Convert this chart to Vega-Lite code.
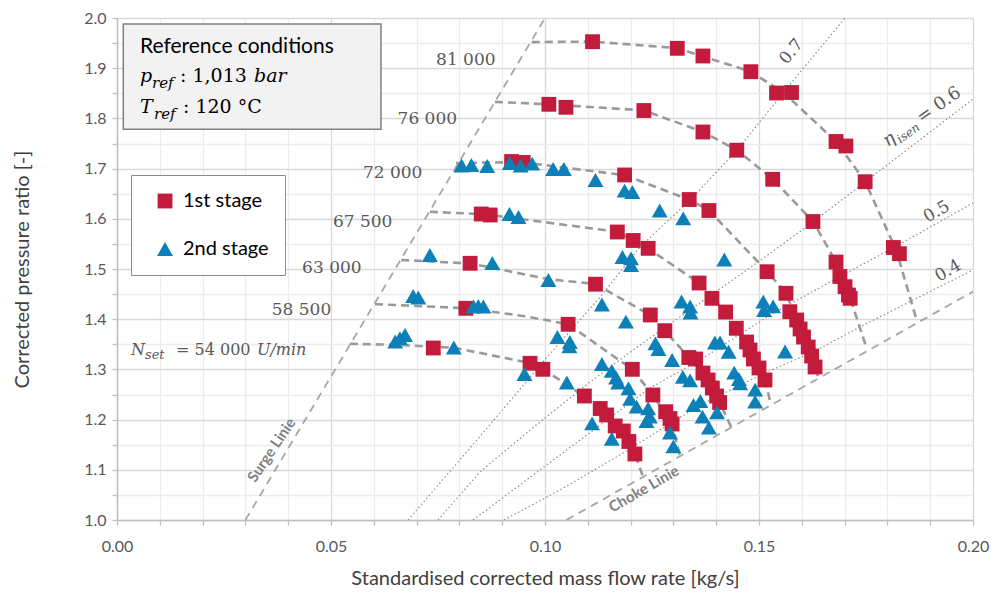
{
  "$schema": "https://vega.github.io/schema/vega-lite/v6.json",
  "width": 856,
  "height": 502,
  "autosize": {"type": "none"},
  "padding": {"left": 117, "top": 18, "right": 21, "bottom": 74},
  "background": "white",
  "config": {"view": {"stroke": null}},
  "datasets": {
    "points": [
      {"stage":"1st stage","x":0.1111,"y":1.9528},{"stage":"1st stage","x":0.1309,"y":1.9396},{"stage":"1st stage","x":0.1369,"y":1.9243},{"stage":"1st stage","x":0.1481,"y":1.8930},{"stage":"1st stage","x":0.1541,"y":1.8506},{"stage":"1st stage","x":0.1576,"y":1.8516},{"stage":"1st stage","x":0.1680,"y":1.7540},{"stage":"1st stage","x":0.1703,"y":1.7450},{"stage":"1st stage","x":0.1748,"y":1.6739},{"stage":"1st stage","x":0.1814,"y":1.5428},{"stage":"1st stage","x":0.1828,"y":1.5305},
      {"stage":"1st stage","x":0.1009,"y":1.8281},{"stage":"1st stage","x":0.1049,"y":1.8221},{"stage":"1st stage","x":0.1231,"y":1.8157},{"stage":"1st stage","x":0.1369,"y":1.7729},{"stage":"1st stage","x":0.1448,"y":1.7367},{"stage":"1st stage","x":0.1532,"y":1.6787},{"stage":"1st stage","x":0.1626,"y":1.5946},{"stage":"1st stage","x":0.1680,"y":1.5139},{"stage":"1st stage","x":0.1689,"y":1.4851},{"stage":"1st stage","x":0.1701,"y":1.4647},{"stage":"1st stage","x":0.1709,"y":1.4482},{"stage":"1st stage","x":0.1713,"y":1.4416},
      {"stage":"1st stage","x":0.0922,"y":1.7141},{"stage":"1st stage","x":0.0949,"y":1.7122},{"stage":"1st stage","x":0.1186,"y":1.6873},{"stage":"1st stage","x":0.1337,"y":1.6384},{"stage":"1st stage","x":0.1383,"y":1.6165},{"stage":"1st stage","x":0.1519,"y":1.4946},{"stage":"1st stage","x":0.1563,"y":1.4516},{"stage":"1st stage","x":0.1572,"y":1.4149},{"stage":"1st stage","x":0.1588,"y":1.3984},{"stage":"1st stage","x":0.1596,"y":1.3805},{"stage":"1st stage","x":0.1604,"y":1.3645},{"stage":"1st stage","x":0.1615,"y":1.3446},{"stage":"1st stage","x":0.1623,"y":1.3267},{"stage":"1st stage","x":0.1631,"y":1.3048},
      {"stage":"1st stage","x":0.0851,"y":1.6096},{"stage":"1st stage","x":0.0872,"y":1.6076},{"stage":"1st stage","x":0.1169,"y":1.5737},{"stage":"1st stage","x":0.1206,"y":1.5568},{"stage":"1st stage","x":0.1241,"y":1.5412},{"stage":"1st stage","x":0.1360,"y":1.4721},{"stage":"1st stage","x":0.1390,"y":1.4416},{"stage":"1st stage","x":0.1422,"y":1.4143},{"stage":"1st stage","x":0.1447,"y":1.3819},{"stage":"1st stage","x":0.1471,"y":1.3546},{"stage":"1st stage","x":0.1479,"y":1.3386},{"stage":"1st stage","x":0.1487,"y":1.3207},{"stage":"1st stage","x":0.1500,"y":1.3028},{"stage":"1st stage","x":0.1514,"y":1.2789},
      {"stage":"1st stage","x":0.0825,"y":1.5114},{"stage":"1st stage","x":0.1118,"y":1.4697},{"stage":"1st stage","x":0.1246,"y":1.4084},{"stage":"1st stage","x":0.1280,"y":1.3771},{"stage":"1st stage","x":0.1336,"y":1.3237},{"stage":"1st stage","x":0.1352,"y":1.3207},{"stage":"1st stage","x":0.1369,"y":1.2928},{"stage":"1st stage","x":0.1381,"y":1.2789},{"stage":"1st stage","x":0.1391,"y":1.2629},{"stage":"1st stage","x":0.1401,"y":1.2470},{"stage":"1st stage","x":0.1408,"y":1.2341},
      {"stage":"1st stage","x":0.0815,"y":1.4217},{"stage":"1st stage","x":0.1054,"y":1.3898},{"stage":"1st stage","x":0.1204,"y":1.3002},{"stage":"1st stage","x":0.1252,"y":1.2490},{"stage":"1st stage","x":0.1282,"y":1.2157},{"stage":"1st stage","x":0.1292,"y":1.2022},{"stage":"1st stage","x":0.1297,"y":1.1912},
      {"stage":"1st stage","x":0.0739,"y":1.3426},{"stage":"1st stage","x":0.0965,"y":1.3122},{"stage":"1st stage","x":0.0995,"y":1.3002},{"stage":"1st stage","x":0.1092,"y":1.2470},{"stage":"1st stage","x":0.1129,"y":1.2221},{"stage":"1st stage","x":0.1144,"y":1.2092},{"stage":"1st stage","x":0.1164,"y":1.1873},{"stage":"1st stage","x":0.1183,"y":1.1773},{"stage":"1st stage","x":0.1196,"y":1.1564},{"stage":"1st stage","x":0.1210,"y":1.1315},
      {"stage":"2nd stage","x":0.0805,"y":1.7062},{"stage":"2nd stage","x":0.0828,"y":1.7072},{"stage":"2nd stage","x":0.0865,"y":1.7052},{"stage":"2nd stage","x":0.0918,"y":1.7112},{"stage":"2nd stage","x":0.0943,"y":1.7062},{"stage":"2nd stage","x":0.0970,"y":1.7098},{"stage":"2nd stage","x":0.1019,"y":1.6992},{"stage":"2nd stage","x":0.1044,"y":1.6992},{"stage":"2nd stage","x":0.1118,"y":1.6773},{"stage":"2nd stage","x":0.1186,"y":1.6560},{"stage":"2nd stage","x":0.1204,"y":1.6534},{"stage":"2nd stage","x":0.1268,"y":1.6165},{"stage":"2nd stage","x":0.1323,"y":1.6010},
      {"stage":"2nd stage","x":0.0917,"y":1.6096},{"stage":"2nd stage","x":0.0938,"y":1.6036},{"stage":"2nd stage","x":0.1181,"y":1.5239},{"stage":"2nd stage","x":0.1201,"y":1.5213},{"stage":"2nd stage","x":0.1201,"y":1.5080},{"stage":"2nd stage","x":0.1419,"y":1.5189},
      {"stage":"2nd stage","x":0.0731,"y":1.5279},{"stage":"2nd stage","x":0.0877,"y":1.5120},{"stage":"2nd stage","x":0.1008,"y":1.4781},{"stage":"2nd stage","x":0.1133,"y":1.4293},{"stage":"2nd stage","x":0.1189,"y":1.3950},{"stage":"2nd stage","x":0.1319,"y":1.4353},{"stage":"2nd stage","x":0.1339,"y":1.4253},{"stage":"2nd stage","x":0.1340,"y":1.4133},{"stage":"2nd stage","x":0.1510,"y":1.4349},{"stage":"2nd stage","x":0.1533,"y":1.4255},{"stage":"2nd stage","x":0.1512,"y":1.4183},
      {"stage":"2nd stage","x":0.0692,"y":1.4462},{"stage":"2nd stage","x":0.0704,"y":1.4432},{"stage":"2nd stage","x":0.0833,"y":1.4253},{"stage":"2nd stage","x":0.0844,"y":1.4263},{"stage":"2nd stage","x":0.0856,"y":1.4253},{"stage":"2nd stage","x":0.1029,"y":1.3645},{"stage":"2nd stage","x":0.1058,"y":1.3546},{"stage":"2nd stage","x":0.1057,"y":1.3460},{"stage":"2nd stage","x":0.1258,"y":1.3520},{"stage":"2nd stage","x":0.1265,"y":1.3406},{"stage":"2nd stage","x":0.1297,"y":1.3187},{"stage":"2nd stage","x":0.1397,"y":1.3536},{"stage":"2nd stage","x":0.1409,"y":1.3536},{"stage":"2nd stage","x":0.1429,"y":1.3351},{"stage":"2nd stage","x":0.1561,"y":1.3357},
      {"stage":"2nd stage","x":0.0650,"y":1.3556},{"stage":"2nd stage","x":0.0661,"y":1.3622},{"stage":"2nd stage","x":0.0673,"y":1.3685},{"stage":"2nd stage","x":0.0787,"y":1.3436},{"stage":"2nd stage","x":0.0952,"y":1.2908},{"stage":"2nd stage","x":0.1051,"y":1.2739},{"stage":"2nd stage","x":0.1110,"y":1.1926},{"stage":"2nd stage","x":0.1133,"y":1.3108},{"stage":"2nd stage","x":0.1156,"y":1.2972},{"stage":"2nd stage","x":0.1166,"y":1.2839},{"stage":"2nd stage","x":0.1171,"y":1.2739},{"stage":"2nd stage","x":0.1156,"y":1.1618},{"stage":"2nd stage","x":0.1195,"y":1.2624},{"stage":"2nd stage","x":0.1199,"y":1.2414},{"stage":"2nd stage","x":0.1214,"y":1.2257},{"stage":"2nd stage","x":0.1241,"y":1.2225},{"stage":"2nd stage","x":0.1245,"y":1.2058},{"stage":"2nd stage","x":0.1237,"y":1.1972},{"stage":"2nd stage","x":0.1292,"y":1.1743},{"stage":"2nd stage","x":0.1300,"y":1.1467},{"stage":"2nd stage","x":0.1322,"y":1.2851},{"stage":"2nd stage","x":0.1339,"y":1.2783},{"stage":"2nd stage","x":0.1347,"y":1.2291},{"stage":"2nd stage","x":0.1363,"y":1.2371},{"stage":"2nd stage","x":0.1368,"y":1.2058},{"stage":"2nd stage","x":0.1383,"y":1.1841},{"stage":"2nd stage","x":0.1402,"y":1.2145},{"stage":"2nd stage","x":0.1442,"y":1.2937},{"stage":"2nd stage","x":0.1453,"y":1.2809},{"stage":"2nd stage","x":0.1456,"y":1.2723},{"stage":"2nd stage","x":0.1491,"y":1.2596},{"stage":"2nd stage","x":0.1491,"y":1.2357}
    ],
    "speedLines": [
      {"speed":"54000","o":1,"x":0.0544,"y":1.351},{"speed":"54000","o":2,"x":0.0650,"y":1.349},{"speed":"54000","o":3,"x":0.0787,"y":1.343},{"speed":"54000","o":4,"x":0.0965,"y":1.313},{"speed":"54000","o":5,"x":0.0995,"y":1.301},{"speed":"54000","o":6,"x":0.1091,"y":1.247},{"speed":"54000","o":7,"x":0.1143,"y":1.209},{"speed":"54000","o":8,"x":0.1182,"y":1.177},{"speed":"54000","o":9,"x":0.1210,"y":1.132},{"speed":"54000","o":10,"x":0.1229,"y":1.086},
      {"speed":"58500","o":1,"x":0.0603,"y":1.430},{"speed":"58500","o":2,"x":0.0815,"y":1.422},{"speed":"58500","o":3,"x":0.0953,"y":1.406},{"speed":"58500","o":4,"x":0.1054,"y":1.390},{"speed":"58500","o":5,"x":0.1204,"y":1.300},{"speed":"58500","o":6,"x":0.1252,"y":1.249},{"speed":"58500","o":7,"x":0.1297,"y":1.191},{"speed":"58500","o":8,"x":0.1315,"y":1.128},
      {"speed":"63000","o":1,"x":0.0664,"y":1.518},{"speed":"63000","o":2,"x":0.0825,"y":1.511},{"speed":"63000","o":3,"x":0.1007,"y":1.480},{"speed":"63000","o":4,"x":0.1118,"y":1.470},{"speed":"63000","o":5,"x":0.1246,"y":1.408},{"speed":"63000","o":6,"x":0.1280,"y":1.377},{"speed":"63000","o":7,"x":0.1336,"y":1.324},{"speed":"63000","o":8,"x":0.1369,"y":1.293},{"speed":"63000","o":9,"x":0.1408,"y":1.234},{"speed":"63000","o":10,"x":0.1435,"y":1.185},
      {"speed":"67500","o":1,"x":0.0731,"y":1.614},{"speed":"67500","o":2,"x":0.0860,"y":1.609},{"speed":"67500","o":3,"x":0.1169,"y":1.574},{"speed":"67500","o":4,"x":0.1241,"y":1.541},{"speed":"67500","o":5,"x":0.1360,"y":1.472},{"speed":"67500","o":6,"x":0.1422,"y":1.414},{"speed":"67500","o":7,"x":0.1471,"y":1.355},{"speed":"67500","o":8,"x":0.1514,"y":1.279},{"speed":"67500","o":9,"x":0.1528,"y":1.229},
      {"speed":"72000","o":1,"x":0.0792,"y":1.711},{"speed":"72000","o":2,"x":0.0942,"y":1.713},{"speed":"72000","o":3,"x":0.1186,"y":1.687},{"speed":"72000","o":4,"x":0.1337,"y":1.638},{"speed":"72000","o":5,"x":0.1383,"y":1.617},{"speed":"72000","o":6,"x":0.1519,"y":1.495},{"speed":"72000","o":7,"x":0.1563,"y":1.452},{"speed":"72000","o":8,"x":0.1596,"y":1.381},{"speed":"72000","o":9,"x":0.1631,"y":1.305},{"speed":"72000","o":10,"x":0.1638,"y":1.285},
      {"speed":"76000","o":1,"x":0.0883,"y":1.833},{"speed":"76000","o":2,"x":0.1009,"y":1.828},{"speed":"76000","o":3,"x":0.1231,"y":1.816},{"speed":"76000","o":4,"x":0.1369,"y":1.773},{"speed":"76000","o":5,"x":0.1448,"y":1.737},{"speed":"76000","o":6,"x":0.1532,"y":1.679},{"speed":"76000","o":7,"x":0.1626,"y":1.595},{"speed":"76000","o":8,"x":0.1680,"y":1.514},{"speed":"76000","o":9,"x":0.1713,"y":1.442},{"speed":"76000","o":10,"x":0.1752,"y":1.341},
      {"speed":"81000","o":1,"x":0.0969,"y":1.952},{"speed":"81000","o":2,"x":0.1111,"y":1.953},{"speed":"81000","o":3,"x":0.1309,"y":1.940},{"speed":"81000","o":4,"x":0.1481,"y":1.893},{"speed":"81000","o":5,"x":0.1558,"y":1.851},{"speed":"81000","o":6,"x":0.1680,"y":1.754},{"speed":"81000","o":7,"x":0.1748,"y":1.674},{"speed":"81000","o":8,"x":0.1821,"y":1.537},{"speed":"81000","o":9,"x":0.1869,"y":1.396}
    ],
    "effLines": [
      {"eta":"0.7","o":1,"x":0.0680,"y":1.0},{"eta":"0.7","o":2,"x":0.0841,"y":1.1594},{"eta":"0.7","o":3,"x":0.1005,"y":1.3247},{"eta":"0.7","o":4,"x":0.1129,"y":1.4442},{"eta":"0.7","o":5,"x":0.1222,"y":1.5438},{"eta":"0.7","o":6,"x":0.1339,"y":1.6375},{"eta":"0.7","o":7,"x":0.1449,"y":1.7371},{"eta":"0.7","o":8,"x":0.1577,"y":1.8725},{"eta":"0.7","o":9,"x":0.1701,"y":2.0},
      {"eta":"0.6","o":1,"x":0.0750,"y":1.0},{"eta":"0.6","o":2,"x":0.0848,"y":1.0956},{"eta":"0.6","o":3,"x":0.0965,"y":1.1793},{"eta":"0.6","o":4,"x":0.1105,"y":1.2749},{"eta":"0.6","o":5,"x":0.1222,"y":1.3486},{"eta":"0.6","o":6,"x":0.1362,"y":1.4323},{"eta":"0.6","o":7,"x":0.1498,"y":1.5139},{"eta":"0.6","o":8,"x":0.1626,"y":1.5936},{"eta":"0.6","o":9,"x":0.1748,"y":1.6733},{"eta":"0.6","o":10,"x":0.2,"y":1.8386},
      {"eta":"0.5","o":1,"x":0.0832,"y":1.0},{"eta":"0.5","o":2,"x":0.0988,"y":1.0996},{"eta":"0.5","o":3,"x":0.1129,"y":1.1892},{"eta":"0.5","o":4,"x":0.1245,"y":1.2629},{"eta":"0.5","o":5,"x":0.1362,"y":1.3187},{"eta":"0.5","o":6,"x":0.1526,"y":1.4084},{"eta":"0.5","o":7,"x":0.1696,"y":1.4880},{"eta":"0.5","o":8,"x":0.1813,"y":1.5418},{"eta":"0.5","o":9,"x":0.2,"y":1.6315},
      {"eta":"0.4","o":1,"x":0.0904,"y":1.0},{"eta":"0.4","o":2,"x":0.1035,"y":1.0598},{"eta":"0.4","o":3,"x":0.1175,"y":1.1295},{"eta":"0.4","o":4,"x":0.1362,"y":1.2291},{"eta":"0.4","o":5,"x":0.1519,"y":1.2948},{"eta":"0.4","o":6,"x":0.1626,"y":1.3347},{"eta":"0.4","o":7,"x":0.1736,"y":1.3845},{"eta":"0.4","o":8,"x":0.1860,"y":1.4382},{"eta":"0.4","o":9,"x":0.2,"y":1.4980}
    ],
    "limitLines": [
      {"line":"surge","o":1,"x":0.03,"y":1.0},{"line":"surge","o":2,"x":0.1,"y":2.0},
      {"line":"choke","o":1,"x":0.105,"y":1.0},{"line":"choke","o":2,"x":0.2,"y":1.455}
    ],
    "labels": [
      {"kind":"speed","text":"81 000","x":0.0815,"y":1.9163},
      {"kind":"speed","text":"76 000","x":0.0725,"y":1.7988},
      {"kind":"speed","text":"72 000","x":0.0644,"y":1.6906},
      {"kind":"speed","text":"67 500","x":0.0574,"y":1.5942},
      {"kind":"speed","text":"63 000","x":0.0502,"y":1.5010},
      {"kind":"speed","text":"58 500","x":0.0431,"y":1.4183},
      {"kind":"boxTitle","text":"Reference conditions","x":0.00537,"y":1.9303},
      {"kind":"mathIt","text":"p","x":0.00537,"y":1.8725},
      {"kind":"mathSub","text":"ref","x":0.00818,"y":1.8606},
      {"kind":"mathUp","text":": 1,013","x":0.01472,"y":1.8725},
      {"kind":"mathIt","text":"bar","x":0.03201,"y":1.8725},
      {"kind":"mathIt","text":"T","x":0.00537,"y":1.8108},
      {"kind":"mathSub","text":"ref","x":0.00864,"y":1.7988},
      {"kind":"mathUp","text":": 120 °C","x":0.01542,"y":1.8108},
      {"kind":"nIt","text":"N","x":0.00327,"y":1.3287},
      {"kind":"nSub","text":"set","x":0.00654,"y":1.3207},
      {"kind":"nUp","text":"= 54 000","x":0.01379,"y":1.3287},
      {"kind":"nIt","text":"U/min","x":0.0327,"y":1.3287}
    ]
  },
  "encoding": {
    "x": {
      "field": "x", "type": "quantitative",
      "scale": {"domain": [0, 0.2], "nice": false, "zero": false},
      "axis": {
        "title": "Standardised corrected mass flow rate [kg/s]",
        "values": [0,0.01,0.02,0.03,0.04,0.05,0.06,0.07,0.08,0.09,0.1,0.11,0.12,0.13,0.14,0.15,0.16,0.17,0.18,0.19,0.2],
        "labelExpr": "round(datum.value*100) % 5 == 0 ? format(datum.value, '.2f') : ''",
        "labelOverlap": false, "labelFlush": false, "labelBound": false,
        "grid": true,
        "gridColor": {"condition": {"test": "round(datum.value*100) % 5 == 0", "value": "#d9d9d9"}, "value": "#ececec"},
        "gridWidth": 1.3,
        "tickColor": "#bfbfbf", "tickSize": 5, "tickWidth": 1.3,
        "domainColor": "#bfbfbf", "domainWidth": 1.5,
        "labelFont": "Lato", "labelFontSize": 16, "labelColor": "#595959", "labelPadding": 13,
        "titleFont": "Lato", "titleFontSize": 20, "titleFontWeight": "normal", "titleColor": "#404040", "titlePadding": 14
      }
    },
    "y": {
      "field": "y", "type": "quantitative",
      "scale": {"domain": [1, 2], "nice": false, "zero": false},
      "axis": {
        "title": "Corrected  pressure ratio [-]",
        "values": [1,1.05,1.1,1.15,1.2,1.25,1.3,1.35,1.4,1.45,1.5,1.55,1.6,1.65,1.7,1.75,1.8,1.85,1.9,1.95,2],
        "labelExpr": "round(datum.value*100) % 10 == 0 ? format(datum.value, '.1f') : ''",
        "labelOverlap": false, "labelFlush": false, "labelBound": false,
        "grid": true,
        "gridColor": {"condition": {"test": "round(datum.value*100) % 10 == 0", "value": "#d9d9d9"}, "value": "#ececec"},
        "gridWidth": 1.3,
        "tickColor": "#bfbfbf", "tickSize": 5, "tickWidth": 1.3,
        "domainColor": "#bfbfbf", "domainWidth": 1.5,
        "labelFont": "Lato", "labelFontSize": 16, "labelColor": "#595959", "labelPadding": 6,
        "titleFont": "Lato", "titleFontSize": 20, "titleFontWeight": "normal", "titleColor": "#404040", "titlePadding": 51
      }
    }
  },
  "layer": [
    {
      "data": {"values": [{"x": 0.00147, "x2": 0.06168, "y": 1.988, "y2": 1.7783}]},
      "mark": {"type": "rect", "fill": "#f2f2f2", "stroke": "#808080", "strokeWidth": 1.5},
      "encoding": {"x2": {"field": "x2"}, "y2": {"field": "y2"}}
    },
    {
      "data": {"name": "effLines"},
      "mark": {"type": "line", "color": "#8c8c8c", "strokeWidth": 1.2, "strokeDash": [1.5, 2.5], "clip": true},
      "encoding": {"detail": {"field": "eta"}, "order": {"field": "o", "type": "quantitative"}}
    },
    {
      "data": {"name": "limitLines"},
      "mark": {"type": "line", "color": "#a6a6a6", "strokeWidth": 1.8, "strokeDash": [8, 6], "clip": true},
      "encoding": {"detail": {"field": "line"}, "order": {"field": "o", "type": "quantitative"}}
    },
    {
      "data": {"name": "speedLines"},
      "mark": {"type": "line", "color": "#9a9a9a", "strokeWidth": 2.6, "strokeDash": [8, 5], "clip": true},
      "encoding": {"detail": {"field": "speed"}, "order": {"field": "o", "type": "quantitative"}}
    },
    {
      "data": {"name": "points"},
      "mark": {"type": "point", "filled": true, "opacity": 1, "strokeWidth": 0},
      "encoding": {
        "color": {
          "field": "stage", "type": "nominal",
          "scale": {"domain": ["1st stage", "2nd stage"], "range": ["#c21b3b", "#0d80b8"]},
          "legend": {
            "orient": "none", "legendX": 14, "legendY": 157, "title": null,
            "labelFont": "Lato", "labelFontSize": 20, "labelColor": "#000000",
            "symbolSize": 200, "rowPadding": 28, "padding": 16, "symbolOffset": 8, "labelOffset": 8,
            "strokeColor": "#8c8c8c", "fillColor": "white"
          }
        },
        "shape": {
          "field": "stage", "type": "nominal",
          "scale": {"domain": ["1st stage", "2nd stage"], "range": ["square", "triangle-up"]}
        },
        "size": {
          "field": "stage", "type": "nominal",
          "scale": {"domain": ["1st stage", "2nd stage"], "range": [220, 255]},
          "legend": null
        }
      }
    },
    {
      "data": {"name": "labels"},
      "transform": [{"filter": "datum.kind == 'speed'"}],
      "mark": {"type": "text", "font": "DejaVu Serif", "fontSize": 17, "color": "#595959", "align": "center", "baseline": "middle"},
      "encoding": {"text": {"field": "text"}}
    },
    {
      "data": {"name": "labels"},
      "transform": [{"filter": "datum.kind == 'boxTitle'"}],
      "mark": {"type": "text", "font": "Lato", "fontSize": 21, "color": "#000000", "align": "left", "baseline": "alphabetic"},
      "encoding": {"text": {"field": "text"}}
    },
    {
      "data": {"name": "labels"},
      "transform": [{"filter": "datum.kind == 'mathIt'"}],
      "mark": {"type": "text", "font": "DejaVu Serif", "fontStyle": "italic", "fontSize": 19, "color": "#000000", "align": "left", "baseline": "alphabetic"},
      "encoding": {"text": {"field": "text"}}
    },
    {
      "data": {"name": "labels"},
      "transform": [{"filter": "datum.kind == 'mathSub'"}],
      "mark": {"type": "text", "font": "DejaVu Serif", "fontStyle": "italic", "fontSize": 15, "color": "#000000", "align": "left", "baseline": "alphabetic"},
      "encoding": {"text": {"field": "text"}}
    },
    {
      "data": {"name": "labels"},
      "transform": [{"filter": "datum.kind == 'mathUp'"}],
      "mark": {"type": "text", "font": "DejaVu Serif", "fontSize": 19, "color": "#000000", "align": "left", "baseline": "alphabetic"},
      "encoding": {"text": {"field": "text"}}
    },
    {
      "data": {"name": "labels"},
      "transform": [{"filter": "datum.kind == 'nIt'"}],
      "mark": {"type": "text", "font": "DejaVu Serif", "fontStyle": "italic", "fontSize": 16, "color": "#595959", "align": "left", "baseline": "alphabetic"},
      "encoding": {"text": {"field": "text"}}
    },
    {
      "data": {"name": "labels"},
      "transform": [{"filter": "datum.kind == 'nSub'"}],
      "mark": {"type": "text", "font": "DejaVu Serif", "fontStyle": "italic", "fontSize": 13, "color": "#595959", "align": "left", "baseline": "alphabetic"},
      "encoding": {"text": {"field": "text"}}
    },
    {
      "data": {"name": "labels"},
      "transform": [{"filter": "datum.kind == 'nUp'"}],
      "mark": {"type": "text", "font": "DejaVu Serif", "fontSize": 16, "color": "#595959", "align": "left", "baseline": "alphabetic"},
      "encoding": {"text": {"field": "text"}}
    },
    {
      "data": {"values": [{"text": "Surge Linie", "x": 0.0361, "y": 1.1394}]},
      "mark": {"type": "text", "font": "Lato", "fontWeight": "bold", "fontSize": 15, "color": "#7f7f7f", "angle": 304, "align": "center", "baseline": "middle"},
      "encoding": {"text": {"field": "text"}}
    },
    {
      "data": {"values": [{"text": "Choke Linie", "x": 0.1231, "y": 1.0618}]},
      "mark": {"type": "text", "font": "Lato", "fontWeight": "bold", "fontSize": 15, "color": "#7f7f7f", "angle": 330, "align": "center", "baseline": "middle"},
      "encoding": {"text": {"field": "text"}}
    },
    {
      "data": {"values": [{"text": "0.7", "x": 0.1576, "y": 1.9329}]},
      "mark": {"type": "text", "font": "DejaVu Serif", "fontSize": 17, "color": "#595959", "angle": 310, "align": "center", "baseline": "middle"},
      "encoding": {"text": {"field": "text"}}
    },
    {
      "data": {"values": [{"text": "0.5", "x": 0.1915, "y": 1.6141}, {"text": "0.4", "x": 0.1942, "y": 1.4964}]},
      "mark": {"type": "text", "font": "DejaVu Serif", "fontSize": 17, "color": "#595959", "angle": 330, "align": "center", "baseline": "middle"},
      "encoding": {"text": {"field": "text"}}
    },
    {
      "data": {"values": [{"text": "η", "x": 0.1801, "y": 1.7430}]},
      "mark": {"type": "text", "font": "DejaVu Serif", "fontStyle": "italic", "fontSize": 18, "color": "#595959", "angle": 325, "align": "left", "baseline": "alphabetic"},
      "encoding": {"text": {"field": "text"}}
    },
    {
      "data": {"values": [{"text": "isen", "x": 0.1830, "y": 1.7502}]},
      "mark": {"type": "text", "font": "DejaVu Serif", "fontStyle": "italic", "fontSize": 12, "color": "#595959", "angle": 325, "align": "left", "baseline": "alphabetic"},
      "encoding": {"text": {"field": "text"}}
    },
    {
      "data": {"values": [{"text": "= 0.6", "x": 0.1880, "y": 1.7898}]},
      "mark": {"type": "text", "font": "DejaVu Serif", "fontSize": 18, "color": "#595959", "angle": 325, "align": "left", "baseline": "alphabetic"},
      "encoding": {"text": {"field": "text"}}
    }
  ]
}
